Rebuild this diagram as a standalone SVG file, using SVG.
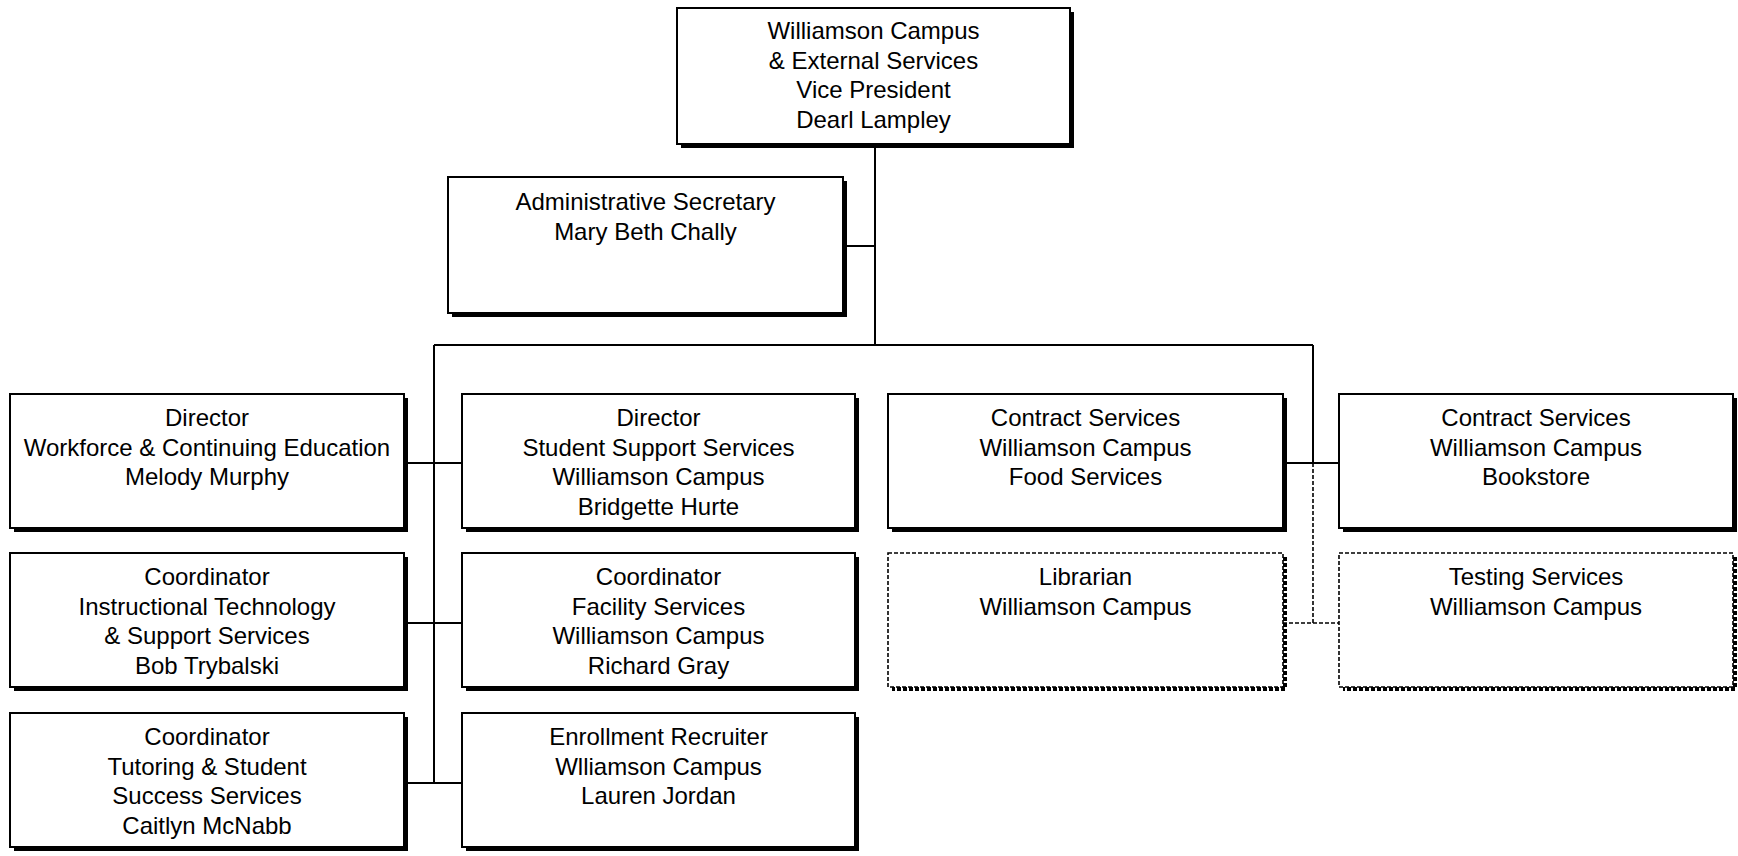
<svg xmlns="http://www.w3.org/2000/svg" width="1738" height="856" viewBox="0 0 1738 856">
<style>
.box{fill:#fff;stroke:#000;stroke-width:2}
.sh{fill:#000}
.dbox{fill:#fff;stroke:#000;stroke-width:1.6;stroke-dasharray:4 2}
.dsh{fill:none;stroke:#000;stroke-width:4;stroke-dasharray:4 2}
.ln{stroke:#000;stroke-width:2;fill:none}
.dl{stroke:#000;stroke-width:1.6;fill:none;stroke-dasharray:4 2}
text{font-family:"Liberation Sans",Arial,sans-serif;font-size:24px;fill:#000;text-anchor:middle}
</style>
<rect width="1738" height="856" fill="#fff"/>
<g id="connectors">
<line class="ln" x1="875" y1="144" x2="875" y2="345"/>
<line class="ln" x1="843" y1="246" x2="875" y2="246"/>
<line class="ln" x1="434" y1="345" x2="1313" y2="345"/>
<line class="ln" x1="434" y1="345" x2="434" y2="783"/>
<line class="ln" x1="404" y1="463" x2="462" y2="463"/>
<line class="ln" x1="404" y1="623" x2="462" y2="623"/>
<line class="ln" x1="404" y1="783" x2="462" y2="783"/>
<line class="ln" x1="1313" y1="345" x2="1313" y2="463"/>
<line class="ln" x1="1283" y1="463" x2="1339" y2="463"/>
<line class="dl" x1="1313" y1="463" x2="1313" y2="623"/>
<line class="dl" x1="1283" y1="623" x2="1339" y2="623"/>
</g>
<g id="vp">
<rect class="sh" x="681" y="12" width="393" height="136"/>
<rect class="box" x="677" y="8" width="393" height="136"/>
<text><tspan x="873.5" y="39">Williamson Campus</tspan><tspan x="873.5" y="68.5">&amp; External Services</tspan><tspan x="873.5" y="98">Vice President</tspan><tspan x="873.5" y="128">Dearl Lampley</tspan></text>
</g>
<g id="admin">
<rect class="sh" x="452" y="181" width="395" height="136"/>
<rect class="box" x="448" y="177" width="395" height="136"/>
<text><tspan x="645.5" y="210">Administrative Secretary</tspan><tspan x="645.5" y="239.5">Mary Beth Chally</tspan></text>
</g>
<g id="workforce">
<rect class="sh" x="14" y="398" width="394" height="134"/>
<rect class="box" x="10" y="394" width="394" height="134"/>
<text><tspan x="207" y="426">Director</tspan><tspan x="207" y="455.5">Workforce &amp; Continuing Education</tspan><tspan x="207" y="485">Melody Murphy</tspan></text>
</g>
<g id="insttech">
<rect class="sh" x="14" y="557" width="394" height="134"/>
<rect class="box" x="10" y="553" width="394" height="134"/>
<text><tspan x="207" y="585">Coordinator</tspan><tspan x="207" y="614.5">Instructional Technology</tspan><tspan x="207" y="644">&amp; Support Services</tspan><tspan x="207" y="673.5">Bob Trybalski</tspan></text>
</g>
<g id="tutoring">
<rect class="sh" x="14" y="717" width="394" height="134"/>
<rect class="box" x="10" y="713" width="394" height="134"/>
<text><tspan x="207" y="745">Coordinator</tspan><tspan x="207" y="774.5">Tutoring &amp; Student</tspan><tspan x="207" y="804">Success Services</tspan><tspan x="207" y="833.5">Caitlyn McNabb</tspan></text>
</g>
<g id="studentsupport">
<rect class="sh" x="466" y="398" width="393" height="134"/>
<rect class="box" x="462" y="394" width="393" height="134"/>
<text><tspan x="658.5" y="426">Director</tspan><tspan x="658.5" y="455.5">Student Support Services</tspan><tspan x="658.5" y="485">Williamson Campus</tspan><tspan x="658.5" y="514.5">Bridgette Hurte</tspan></text>
</g>
<g id="facility">
<rect class="sh" x="466" y="557" width="393" height="134"/>
<rect class="box" x="462" y="553" width="393" height="134"/>
<text><tspan x="658.5" y="585">Coordinator</tspan><tspan x="658.5" y="614.5">Facility Services</tspan><tspan x="658.5" y="644">Williamson Campus</tspan><tspan x="658.5" y="673.5">Richard Gray</tspan></text>
</g>
<g id="enrollment">
<rect class="sh" x="466" y="717" width="393" height="134"/>
<rect class="box" x="462" y="713" width="393" height="134"/>
<text><tspan x="658.5" y="745">Enrollment Recruiter</tspan><tspan x="658.5" y="774.5">Wlliamson Campus</tspan><tspan x="658.5" y="804">Lauren Jordan</tspan></text>
</g>
<g id="food">
<rect class="sh" x="892" y="398" width="395" height="134"/>
<rect class="box" x="888" y="394" width="395" height="134"/>
<text><tspan x="1085.5" y="426">Contract Services</tspan><tspan x="1085.5" y="455.5">Williamson Campus</tspan><tspan x="1085.5" y="485">Food Services</tspan></text>
</g>
<g id="bookstore">
<rect class="sh" x="1343" y="398" width="394" height="134"/>
<rect class="box" x="1339" y="394" width="394" height="134"/>
<text><tspan x="1536" y="426">Contract Services</tspan><tspan x="1536" y="455.5">Williamson Campus</tspan><tspan x="1536" y="485">Bookstore</tspan></text>
</g>
<g id="librarian">
<path class="dsh" d="M1285 557 V689 H892"/>
<rect class="dbox" x="888" y="553" width="395" height="134"/>
<text><tspan x="1085.5" y="585">Librarian</tspan><tspan x="1085.5" y="614.5">Williamson Campus</tspan></text>
</g>
<g id="testing">
<path class="dsh" d="M1735 557 V689 H1343"/>
<rect class="dbox" x="1339" y="553" width="394" height="134"/>
<text><tspan x="1536" y="585">Testing Services</tspan><tspan x="1536" y="614.5">Williamson Campus</tspan></text>
</g>
</svg>
